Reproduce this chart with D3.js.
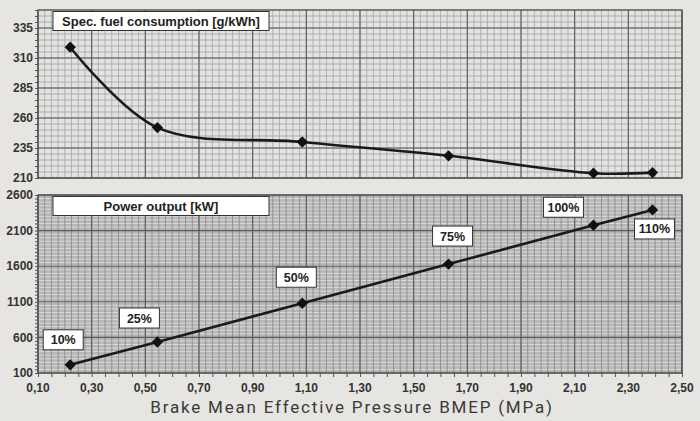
<!DOCTYPE html>
<html>
<head>
<meta charset="utf-8">
<script src="https://cdn.jsdelivr.net/npm/d3@7"></script>
<style>
  body { margin: 0; background: #e6e5e1; }
  svg { display: block; }
</style>
</head>
<body>
<div id="chart"></div>
<script>
// data
var bmep = [0.22, 0.545, 1.085, 1.63, 2.17, 2.39];
var sfc = [319, 252, 240, 228.5, 214, 214.5];
var power = [215, 535, 1080, 1630, 2175, 2390];
var loadLabels = ['10%', '25%', '50%', '75%', '100%', '110%'];
var xTicks = [0.10, 0.30, 0.50, 0.70, 0.90, 1.10, 1.30, 1.50, 1.70, 1.90, 2.10, 2.30, 2.50];
var sfcTicks = [210, 235, 260, 285, 310, 335];
var powerTicks = [100, 600, 1100, 1600, 2100, 2600];

// label box offsets from their point (layout only)
var labelOffsets = [[-7, -25], [-18, -24], [-6, -26], [4, -28], [-30, -18], [2, 19]];

var width = 700, height = 421;
var svg = d3.select('#chart').append('svg')
    .attr('width', width)
    .attr('height', height)
    .style('background', '#e6e5e1');

var x = d3.scaleLinear().domain([0.1, 2.5]).range([38, 682]);
var ySfc = d3.scaleLinear().domain([210, 350]).range([178, 10]);
var yPow = d3.scaleLinear().domain([100, 2600]).range([373, 195]);

var fmtX = function(d) { return d3.format('.2f')(d).replace('.', ','); };

function drawPanel(y, ticks, minorStepY, opts) {
    var g = svg.append('g');
    var x0 = x.range()[0], x1 = x.range()[1];
    var yTop = y.range()[1], yBot = y.range()[0];

    g.append('rect')
        .attr('x', x0).attr('y', yTop)
        .attr('width', x1 - x0).attr('height', yBot - yTop)
        .attr('fill', opts.bg);

    // minor grid
    var minorX = d3.range(0.1, 2.5 + 1e-9, 0.025);
    var minorY = d3.range(y.domain()[0], y.domain()[1] + 1e-9, minorStepY);

    g.selectAll('.mh').data(minorY).enter().append('line')
        .attr('x1', x0).attr('x2', x1)
        .attr('y1', function(d) { return y(d); })
        .attr('y2', function(d) { return y(d); })
        .attr('stroke', opts.minorH).attr('stroke-width', opts.minorHW);

    g.selectAll('.mv').data(minorX).enter().append('line')
        .attr('y1', yTop).attr('y2', yBot)
        .attr('x1', function(d) { return x(d); })
        .attr('x2', function(d) { return x(d); })
        .attr('stroke', opts.minorV).attr('stroke-width', 0.8);

    // major grid
    g.selectAll('.Mh').data(ticks).enter().append('line')
        .attr('x1', x0).attr('x2', x1)
        .attr('y1', function(d) { return y(d); })
        .attr('y2', function(d) { return y(d); })
        .attr('stroke', '#5a5a5a').attr('stroke-width', 1.1);

    g.selectAll('.Mv').data(xTicks).enter().append('line')
        .attr('y1', yTop).attr('y2', yBot)
        .attr('x1', function(d) { return x(d); })
        .attr('x2', function(d) { return x(d); })
        .attr('stroke', '#5a5a5a').attr('stroke-width', 1.1);

    g.append('rect')
        .attr('x', x0).attr('y', yTop)
        .attr('width', x1 - x0).attr('height', yBot - yTop)
        .attr('fill', 'none').attr('stroke', '#4a4a4a').attr('stroke-width', 1.2);

    // left axis with small ticks
    var yAxis = d3.axisLeft(y)
        .tickValues(minorY)
        .tickSize(3)
        .tickFormat('');
    var ya = g.append('g').attr('transform', 'translate(' + x0 + ',0)').call(yAxis);
    ya.select('.domain').remove();
    ya.selectAll('line').attr('stroke', '#555');

    g.selectAll('.yl').data(ticks).enter().append('text')
        .attr('x', 33)
        .attr('y', function(d) { return y(d); })
        .attr('dy', '0.35em')
        .attr('text-anchor', 'end')
        .attr('font-family', 'Liberation Sans, Arial, sans-serif')
        .attr('font-weight', 'bold')
        .attr('font-size', 12)
        .attr('fill', '#333')
        .text(function(d) { return d; });

    // title box
    g.append('rect')
        .attr('x', 53).attr('y', yTop + 1.5)
        .attr('width', 216).attr('height', 19)
        .attr('fill', '#fff').attr('stroke', '#333').attr('stroke-width', 1);
    g.append('text')
        .attr('x', 161).attr('y', yTop + 11)
        .attr('dy', '0.35em')
        .attr('text-anchor', 'middle')
        .attr('font-family', 'Liberation Sans, Arial, sans-serif')
        .attr('font-weight', 'bold')
        .attr('font-size', 13)
        .attr('fill', '#222')
        .text(opts.title);
    return g;
}

drawPanel(ySfc, sfcTicks, 5, {
    bg: '#e3e3e1', minorH: '#a6a6a6', minorHW: 0.9, minorV: '#a6a6a6',
    title: 'Spec. fuel consumption  [g/kWh]'
});
drawPanel(yPow, powerTicks, 50, {
    bg: '#b6b6b6', minorH: '#e0e0e0', minorHW: 0.9, minorV: '#868686',
    title: 'Power output  [kW]'
});

// bottom x axis minor ticks + labels
var xa = svg.append('g').attr('transform', 'translate(0,' + yPow.range()[0] + ')')
    .call(d3.axisBottom(x).tickValues(d3.range(0.1, 2.5 + 1e-9, 0.05)).tickSize(4).tickFormat(''));
xa.select('.domain').remove();
xa.selectAll('line').attr('stroke', '#555');

svg.selectAll('.xl').data(xTicks).enter().append('text')
    .attr('x', function(d) { return x(d); })
    .attr('y', 388)
    .attr('dy', '0.35em')
    .attr('text-anchor', 'middle')
    .attr('font-family', 'Liberation Sans, Arial, sans-serif')
    .attr('font-weight', 'bold')
    .attr('font-size', 12)
    .attr('fill', '#333')
    .text(fmtX);

svg.append('text')
    .attr('x', 352).attr('y', 413)
    .attr('text-anchor', 'middle')
    .attr('font-family', 'Roboto, sans-serif')
    .attr('font-size', 17)
    .attr('letter-spacing', 1.8)
    .attr('fill', '#3a3a3a')
    .text('Brake Mean Effective Pressure BMEP (MPa)');

// lines
var sfcLine = d3.line()
    .x(function(d, i) { return x(bmep[i]); })
    .y(function(d) { return ySfc(d); })
    .curve(d3.curveCatmullRom.alpha(0.5));
var powLine = d3.line()
    .x(function(d, i) { return x(bmep[i]); })
    .y(function(d) { return yPow(d); });

svg.append('path').attr('d', sfcLine(sfc))
    .attr('fill', 'none').attr('stroke', '#1a1a1a').attr('stroke-width', 2.6);
svg.append('path').attr('d', powLine(power))
    .attr('fill', 'none').attr('stroke', '#1a1a1a').attr('stroke-width', 2.6);

// square rotated 45deg gives the broad diamond of the original
var diamond = d3.symbol().type(d3.symbolSquare).size(64);

svg.selectAll('.ms').data(sfc).enter().append('path')
    .attr('d', diamond)
    .attr('transform', function(d, i) { return 'translate(' + x(bmep[i]) + ',' + ySfc(d) + ') rotate(45)'; })
    .attr('fill', '#111');
svg.selectAll('.mp').data(power).enter().append('path')
    .attr('d', diamond)
    .attr('transform', function(d, i) { return 'translate(' + x(bmep[i]) + ',' + yPow(d) + ') rotate(45)'; })
    .attr('fill', '#111');

// load labels
var lab = svg.selectAll('.lab').data(loadLabels).enter().append('g')
    .attr('transform', function(d, i) {
        var cx = x(bmep[i]) + labelOffsets[i][0];
        var cy = yPow(power[i]) + labelOffsets[i][1];
        return 'translate(' + cx + ',' + cy + ')';
    });
lab.append('rect')
    .attr('x', -20).attr('y', -10)
    .attr('width', 40).attr('height', 20)
    .attr('fill', '#fff').attr('stroke', '#333').attr('stroke-width', 1);
lab.append('text')
    .attr('text-anchor', 'middle')
    .attr('dy', '0.36em')
    .attr('font-family', 'Liberation Sans, Arial, sans-serif')
    .attr('font-weight', 'bold')
    .attr('font-size', 12.5)
    .attr('fill', '#222')
    .text(function(d) { return d; });
</script>
</body>
</html>
